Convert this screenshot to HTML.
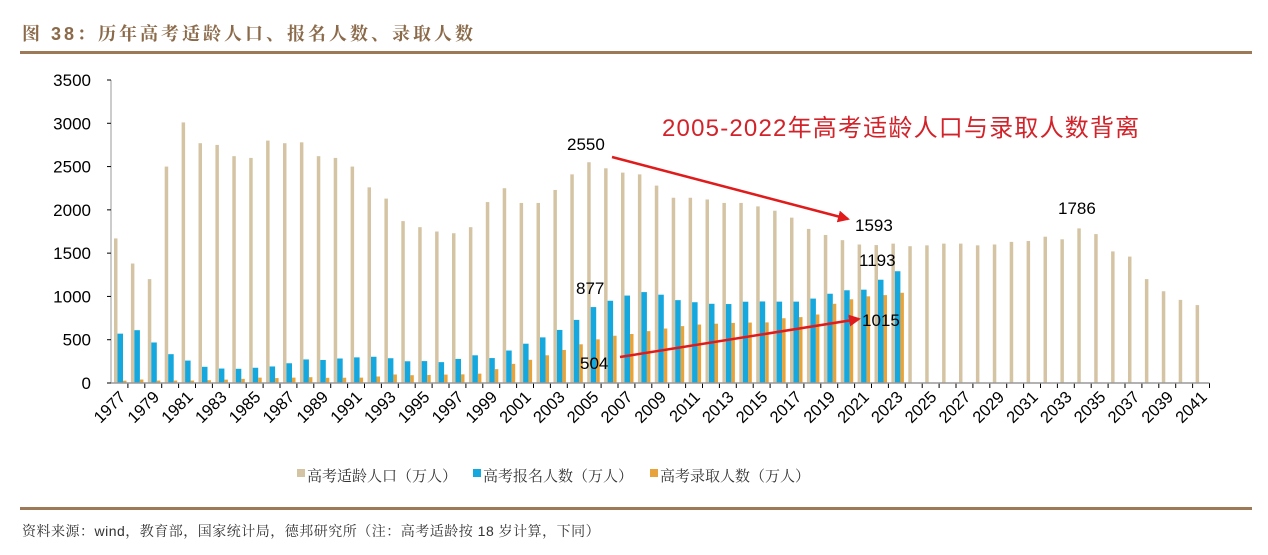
<!DOCTYPE html>
<html><head><meta charset="utf-8">
<style>
body{margin:0;background:#fff;width:1268px;height:555px;overflow:hidden;font-family:"Liberation Sans","Noto Sans CJK SC",sans-serif;}
svg{position:absolute;left:0;top:0}
</style></head>
<body>
<svg id="chart" width="1268" height="555">
<text x="22" y="40" font-family="Liberation Sans,'Noto Serif CJK SC',serif" font-size="18" font-weight="bold" letter-spacing="3" fill="#8B6A4A">图 38：历年高考适龄人口、报名人数、录取人数</text>
<rect x="20" y="51" width="1232" height="3" fill="#9C7A58"/>
<rect x="20" y="507" width="1232" height="3" fill="#9C7A58"/>
<text x="22" y="536" font-family="Liberation Sans,'Noto Serif CJK SC',serif" font-size="14" letter-spacing="0.5" fill="#333">资料来源：wind，教育部，国家统计局，德邦研究所（注：高考适龄按 18 岁计算，下同）</text>
<g id="plot"></g>
</svg>
<script>
const years = [];
for (let y = 1977; y <= 2041; y++) years.push(y);
const population = [1670,1380,1200,2500,3010,2770,2750,2620,2600,2800,2770,2780,2620,2600,2500,2260,2130,1870,1800,1750,1730,1800,2090,2250,2080,2080,2230,2410,2550,2480,2430,2410,2280,2140,2140,2120,2080,2080,2040,1990,1910,1780,1710,1650,1600,1593,1610,1580,1590,1610,1610,1590,1600,1630,1640,1690,1660,1786,1720,1520,1460,1200,1060,960,900];
const registered = [570,610,468,333,259,187,167,164,176,191,228,272,266,283,296,303,286,251,253,241,278,320,288,375,454,527,613,729,877,950,1010,1050,1020,957,933,915,912,939,942,940,940,975,1031,1071,1078,1193,1291];
const admitted = [27,40,28,28,28,32,39,48,62,57,62,67,60,61,62,75,98,90,93,97,100,108,160,221,268,320,382,447,504,546,566,599,629,657,675,685,694,698,700,748,761,791,915,967,1001,1015,1042];
const yTicks = [0,500,1000,1500,2000,2500,3000,3500];

const NS = "http://www.w3.org/2000/svg";
const g = document.getElementById('plot');
const x0 = 111, step = 16.9, yZero = 383, yTop = 80, yMax = 3500;
const X = i => x0 + i * step;
const Y = v => yZero - v / yMax * (yZero - yTop);
function mk(tag, attrs, parent) {
  const e = document.createElementNS(NS, tag);
  for (const k in attrs) e.setAttribute(k, attrs[k]);
  (parent || g).appendChild(e);
  return e;
}
let ax = mk('line', {x1:x0, y1:yTop, x2:x0, y2:yZero, stroke:'#999', 'stroke-width':1});


yTicks.forEach(t => {
  const tk = mk('line', {x1:x0-4, y1:Y(t), x2:x0, y2:Y(t), stroke:'#000'});
  
  
  const tx = mk('text', {x:x0-20, y:Y(t)+6, 'text-anchor':'end', 'font-size':17, fill:'#000'});
  tx.textContent = t;
  
  
});
years.forEach((yr, i) => {
  const bx = X(i);
  const b = mk('rect', {x:bx+3, y:Y(population[i]), width:3.5, height:yZero-Y(population[i]), fill:'#D4C4A4'});
  
  
  if (i < registered.length) {
    const r = mk('rect', {x:bx+6.5, y:Y(registered[i]), width:5.5, height:yZero-Y(registered[i]), fill:'#14A8DF'});
    
    
  }
  if (i < admitted.length) {
    const a = mk('rect', {x:bx+12, y:Y(admitted[i]), width:3.5, height:yZero-Y(admitted[i]), fill:'#E8A33A'});
    
    
  }
  const tk = mk('line', {x1:X(i+1), y1:yZero, x2:X(i+1), y2:yZero+5, stroke:'#000'});
  
  
  if (i % 2 === 0) {
    const cx = bx + step/2 + 7, cy = yZero + 15;
    const t = mk('text', {x:cx, y:cy, 'text-anchor':'end', 'font-size':16.5, fill:'#000', transform:`rotate(-45 ${cx} ${cy})`});
    t.textContent = yr;
    
    
  }
});
let xa = mk('line', {x1:x0, y1:yZero, x2:X(years.length), y2:yZero, stroke:'#999', 'stroke-width':1.5});


const defs = mk('defs', {});
const mkr = mk('marker', {id:'ah', markerWidth:12, markerHeight:12, refX:10, refY:6, orient:'auto', markerUnits:'userSpaceOnUse'}, defs);
mk('path', {d:'M0,0 L12,6 L0,12 z', fill:'#E01B1B'}, mkr);
const a1 = mk('line', {x1:612, y1:157, x2:848, y2:219, stroke:'#E01B1B', 'stroke-width':2.5, 'marker-end':'url(#ah)'});


const a2 = mk('line', {x1:620, y1:357, x2:859, y2:319, stroke:'#E01B1B', 'stroke-width':2.5, 'marker-end':'url(#ah)'});


const labels = [['2550',567,150],['1593',855,231],['1193',859,266],['877',576,294],['1015',862,326],['504',580,369],['1786',1058,214]];
labels.forEach(l => {
  const t = mk('text', {x:l[1], y:l[2], 'font-size':17, fill:'#000'});
  t.textContent = l[0];
  
  
});
const ttl = mk('text', {x:662, y:136, 'font-size':24, 'letter-spacing':1.2, fill:'#D2232A'});
ttl.textContent = '2005-2022年高考适龄人口与录取人数背离';


const leg = [['高考适龄人口（万人）','#D4C4A4',297],['高考报名人数（万人）','#14A8DF',473],['高考录取人数（万人）','#E8A33A',650]];
leg.forEach(l => {
  const r = mk('rect', {x:l[2], y:469, width:8, height:8, fill:l[1]});
  
  
  const t = mk('text', {x:l[2]+10, y:481, 'font-size':15, fill:'#333', 'font-family':"Liberation Sans,'Noto Serif CJK SC',serif"});
  t.textContent = l[0];
  
  
});
</script>
</body></html>
